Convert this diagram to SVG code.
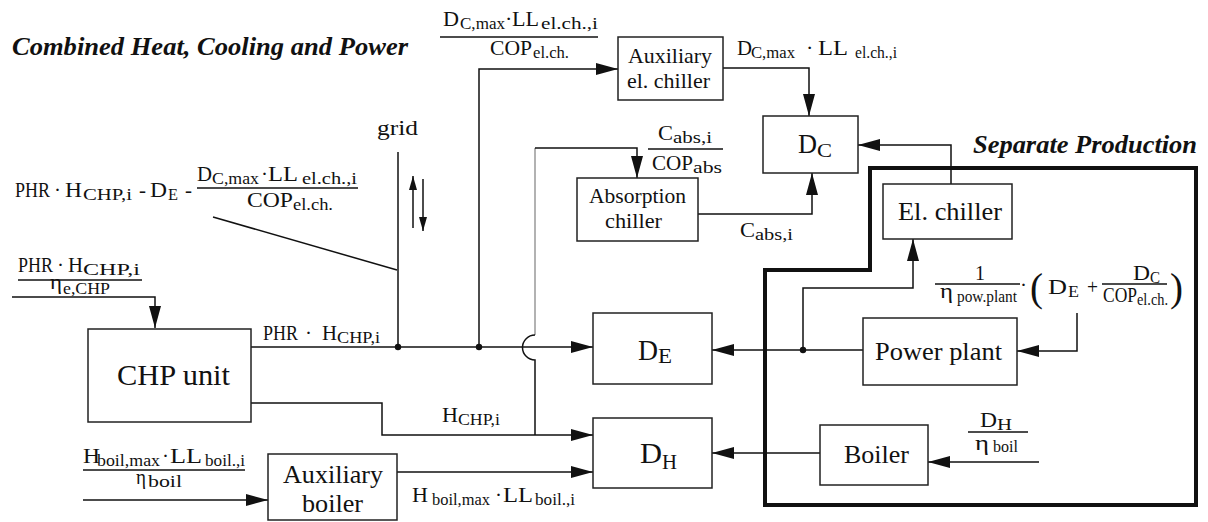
<svg xmlns="http://www.w3.org/2000/svg" width="1208" height="522" viewBox="0 0 1208 522">
<style>
  text { font-family: "Liberation Serif", "Times New Roman", serif; fill: #111; }
  .h { font-weight: bold; font-style: italic; font-size: 26px; }
  .box { fill: #fff; stroke: #222; stroke-width: 1.5; }
  .ln { fill: none; stroke: #111; stroke-width: 1.5; }
  .gr { fill: none; stroke: #999; stroke-width: 1.5; }
  .bar { fill: none; stroke: #111; stroke-width: 1.3; }
  .thick { fill: none; stroke: #111; stroke-width: 4; }
  .m { font-size: 21px; }
  .b { font-size: 22px; }
  .L { font-size: 26px; }
  .s { font-size: 16px; }
</style>
<defs>
  <marker id="arr" markerUnits="userSpaceOnUse" markerWidth="22" markerHeight="12" refX="22" refY="6" orient="auto">
    <path d="M0,0 L22,6 L0,12 z" fill="#111"/>
  </marker>
  <marker id="sarr" markerUnits="userSpaceOnUse" markerWidth="14" markerHeight="8" refX="14" refY="4" orient="auto">
    <path d="M0,0 L14,4 L0,8 z" fill="#111"/>
  </marker>
</defs>

<text class="h" x="12" y="55" textLength="396" lengthAdjust="spacingAndGlyphs">Combined Heat, Cooling and Power</text>
<text class="h" x="973" y="153" textLength="224" lengthAdjust="spacingAndGlyphs">Separate Production</text>

<path class="thick" d="M765,505 L765,270 L870,270 L870,168 L1196,168 L1196,505 Z"/>

<g id="connectors">
  <polyline class="ln" points="12,297 155,297 155,328" marker-end="url(#arr)"/>
  <line class="ln" x1="251" y1="347" x2="593" y2="347" marker-end="url(#arr)"/>
  <line class="ln" x1="398" y1="152" x2="398" y2="347"/>
  <line class="ln" x1="213" y1="217" x2="397" y2="270" stroke-width="1.2"/>
  <line class="ln" x1="413" y1="228" x2="413" y2="176" marker-end="url(#sarr)"/>
  <line class="ln" x1="423" y1="179" x2="423" y2="231" marker-end="url(#sarr)"/>
  <polyline class="ln" points="479,347 479,69 618,69" marker-end="url(#arr)"/>
  <polyline class="ln" points="723,68 809,68 809,116" marker-end="url(#arr)"/>
  <line class="gr" x1="535" y1="335" x2="535" y2="148"/>
  <polyline class="ln" points="535,148 637,148 637,178" marker-end="url(#arr)"/>
  <path class="ln" d="M535,335 A12.5,12.5 0 0 0 535,360 L535,435"/>
  <polyline class="ln" points="251,403 382,403 382,435 593,435" marker-end="url(#arr)"/>
  <line class="ln" x1="83" y1="500" x2="268" y2="500" marker-end="url(#arr)"/>
  <line class="ln" x1="397" y1="472" x2="593" y2="472" marker-end="url(#arr)"/>
  <polyline class="ln" points="698,214 812,214 812,173" marker-end="url(#arr)"/>
  <polyline class="ln" points="951,184 951,145 858,145" marker-end="url(#arr)"/>
  <line class="ln" x1="863" y1="350" x2="712" y2="350" marker-end="url(#arr)"/>
  <polyline class="ln" points="803,350 803,288 913,288 913,239" marker-end="url(#arr)"/>
  <polyline class="ln" points="1077,313 1077,351 1017,351" marker-end="url(#arr)"/>
  <line class="ln" x1="820" y1="453" x2="712" y2="453" marker-end="url(#arr)"/>
  <line class="ln" x1="1039" y1="462" x2="928" y2="462" marker-end="url(#arr)"/>
  <circle cx="398" cy="347" r="3.2" fill="#111"/>
  <circle cx="479" cy="347" r="3.2" fill="#111"/>
  <circle cx="803" cy="350" r="3.2" fill="#111"/>
  <line class="bar" x1="440" y1="37" x2="598" y2="37"/>
  <line class="bar" x1="197" y1="188" x2="358" y2="188"/>
  <line class="bar" x1="18" y1="280" x2="142" y2="280"/>
  <line class="bar" x1="648" y1="149" x2="723" y2="149"/>
  <line class="bar" x1="935" y1="284" x2="1020" y2="284"/>
  <line class="bar" x1="1102" y1="284" x2="1167" y2="284"/>
  <line class="bar" x1="83" y1="470" x2="245" y2="470"/>
  <line class="bar" x1="968" y1="432" x2="1028" y2="432"/>
</g>

<g id="chp">
  <rect class="box" x="88" y="329" width="163" height="93"/>
  <text x="117" y="385" font-size="30" textLength="113" lengthAdjust="spacingAndGlyphs">CHP unit</text>
</g>
<g id="aux-chiller">
  <rect class="box" x="618" y="37" width="105" height="63"/>
  <text class="b" x="628" y="63" textLength="84" lengthAdjust="spacingAndGlyphs">Auxiliary</text>
  <text class="b" x="627" y="88" textLength="83" lengthAdjust="spacingAndGlyphs">el. chiller</text>
</g>
<g id="dc">
  <rect class="box" x="763" y="116" width="95" height="57"/>
  <text x="798" y="153" font-size="28" textLength="19" lengthAdjust="spacingAndGlyphs">D</text>
  <text x="817" y="157" font-size="19" textLength="15" lengthAdjust="spacingAndGlyphs">C</text>
</g>
<g id="absorption">
  <rect class="box" x="577" y="178" width="121" height="63"/>
  <text class="b" x="589" y="203" textLength="97" lengthAdjust="spacingAndGlyphs">Absorption</text>
  <text class="b" x="605" y="228" textLength="57" lengthAdjust="spacingAndGlyphs">chiller</text>
</g>
<g id="de">
  <rect class="box" x="593" y="313" width="119" height="71"/>
  <text x="638" y="360" font-size="30" textLength="20" lengthAdjust="spacingAndGlyphs">D</text>
  <text x="658" y="363" font-size="20" textLength="14" lengthAdjust="spacingAndGlyphs">E</text>
</g>
<g id="dh">
  <rect class="box" x="593" y="418" width="119" height="70"/>
  <text x="640" y="463" font-size="30" textLength="22" lengthAdjust="spacingAndGlyphs">D</text>
  <text x="662" y="469" font-size="20" textLength="15" lengthAdjust="spacingAndGlyphs">H</text>
</g>
<g id="aux-boiler">
  <rect class="box" x="268" y="454" width="129" height="66"/>
  <text class="L" x="283" y="483" textLength="100" lengthAdjust="spacingAndGlyphs">Auxiliary</text>
  <text class="L" x="302" y="512" textLength="61" lengthAdjust="spacingAndGlyphs">boiler</text>
</g>
<g id="el-chiller">
  <rect class="box" x="883" y="184" width="129" height="55"/>
  <text class="L" x="898" y="220" textLength="104" lengthAdjust="spacingAndGlyphs">El. chiller</text>
</g>
<g id="power-plant">
  <rect class="box" x="863" y="318" width="154" height="67"/>
  <text class="L" x="875" y="360" textLength="127" lengthAdjust="spacingAndGlyphs">Power plant</text>
</g>
<g id="boiler">
  <rect class="box" x="820" y="425" width="108" height="60"/>
  <text class="L" x="844" y="463" textLength="65" lengthAdjust="spacingAndGlyphs">Boiler</text>
</g>

<g id="labels">
  <text class="b" x="377" y="135" textLength="41" lengthAdjust="spacingAndGlyphs">grid</text>

  <g id="lbl-aux-chiller-in">
    <text class="b" x="443" y="26" textLength="16" lengthAdjust="spacingAndGlyphs">D</text>
    <text class="s" x="460" y="29" textLength="45" lengthAdjust="spacingAndGlyphs">C,max</text>
    <text class="b" x="505" y="26">·</text>
    <text class="b" x="512" y="26" textLength="27" lengthAdjust="spacingAndGlyphs">LL</text>
    <text class="s" x="541" y="29" textLength="57" lengthAdjust="spacingAndGlyphs">el.ch.,i</text>
    <text class="b" x="490" y="55" textLength="42" lengthAdjust="spacingAndGlyphs">COP</text>
    <text class="s" x="533" y="58" textLength="36" lengthAdjust="spacingAndGlyphs">el.ch.</text>
  </g>

  <g id="lbl-aux-chiller-out">
    <text class="b" x="737" y="55" textLength="15" lengthAdjust="spacingAndGlyphs">D</text>
    <text class="s" x="751" y="58" textLength="44" lengthAdjust="spacingAndGlyphs">C,max</text>
    <text class="b" x="806" y="55">·</text>
    <text class="b" x="818" y="55" textLength="30" lengthAdjust="spacingAndGlyphs">LL</text>
    <text class="s" x="855" y="58" textLength="42" lengthAdjust="spacingAndGlyphs">el.ch.,i</text>
  </g>

  <g id="lbl-grid-balance">
    <text class="m" x="15" y="197" textLength="35" lengthAdjust="spacingAndGlyphs">PHR</text>
    <text class="m" x="54" y="197">·</text>
    <text class="m" x="65" y="197" textLength="17" lengthAdjust="spacingAndGlyphs">H</text>
    <text class="s" x="83" y="200" textLength="49" lengthAdjust="spacingAndGlyphs">CHP,i</text>
    <text class="m" x="139" y="197">-</text>
    <text class="m" x="150" y="197" textLength="17" lengthAdjust="spacingAndGlyphs">D</text>
    <text class="s" x="168" y="200" font-size="14" textLength="10" lengthAdjust="spacingAndGlyphs">E</text>
    <text class="m" x="185" y="197">-</text>
    <text class="m" x="197" y="181" textLength="15" lengthAdjust="spacingAndGlyphs">D</text>
    <text class="s" x="212" y="184" textLength="47" lengthAdjust="spacingAndGlyphs">C,max</text>
    <text class="m" x="261" y="181">·</text>
    <text class="m" x="268" y="181" textLength="30" lengthAdjust="spacingAndGlyphs">LL</text>
    <text class="s" x="302" y="184" textLength="55" lengthAdjust="spacingAndGlyphs">el.ch.,i</text>
    <text class="m" x="247" y="207" textLength="46" lengthAdjust="spacingAndGlyphs">COP</text>
    <text class="s" x="293" y="210" textLength="40" lengthAdjust="spacingAndGlyphs">el.ch.</text>
  </g>

  <g id="lbl-chp-in">
    <text class="m" x="18" y="272" textLength="35" lengthAdjust="spacingAndGlyphs">PHR</text>
    <text class="m" x="57" y="272">·</text>
    <text class="m" x="68" y="272" textLength="15" lengthAdjust="spacingAndGlyphs">H</text>
    <text class="s" x="83" y="275" textLength="57" lengthAdjust="spacingAndGlyphs">CHP,i</text>
    <text class="b" x="50" y="289" textLength="12" lengthAdjust="spacingAndGlyphs">η</text>
    <text class="s" x="63" y="294" textLength="47" lengthAdjust="spacingAndGlyphs">e,CHP</text>
  </g>

  <g id="lbl-chp-power">
    <text class="m" x="263" y="340" textLength="35" lengthAdjust="spacingAndGlyphs">PHR</text>
    <text class="m" x="305" y="340">·</text>
    <text class="m" x="322" y="340" textLength="15" lengthAdjust="spacingAndGlyphs">H</text>
    <text class="s" x="337" y="343" textLength="43" lengthAdjust="spacingAndGlyphs">CHP,i</text>
  </g>

  <g id="lbl-chp-heat">
    <text class="m" x="442" y="422" textLength="16" lengthAdjust="spacingAndGlyphs">H</text>
    <text class="s" x="458" y="425" textLength="42" lengthAdjust="spacingAndGlyphs">CHP,i</text>
  </g>

  <g id="lbl-aux-boiler-in">
    <text class="m" x="83" y="463" textLength="17" lengthAdjust="spacingAndGlyphs">H</text>
    <text class="s" x="97" y="466" textLength="63" lengthAdjust="spacingAndGlyphs">boil,max</text>
    <text class="m" x="162" y="463">·</text>
    <text class="m" x="170" y="463" textLength="32" lengthAdjust="spacingAndGlyphs">LL</text>
    <text class="s" x="205" y="466" textLength="40" lengthAdjust="spacingAndGlyphs">boil.,i</text>
    <text class="b" x="136" y="484" textLength="10" lengthAdjust="spacingAndGlyphs">η</text>
    <text class="s" x="148" y="487" textLength="34" lengthAdjust="spacingAndGlyphs">boil</text>
  </g>

  <g id="lbl-aux-boiler-out">
    <text class="m" x="412" y="502" textLength="16" lengthAdjust="spacingAndGlyphs">H</text>
    <text class="s" x="432" y="505" textLength="58" lengthAdjust="spacingAndGlyphs">boil,max</text>
    <text class="m" x="495" y="502">·</text>
    <text class="m" x="503" y="502" textLength="30" lengthAdjust="spacingAndGlyphs">LL</text>
    <text class="s" x="535" y="505" textLength="40" lengthAdjust="spacingAndGlyphs">boil.,i</text>
  </g>

  <g id="lbl-abs-in">
    <text class="m" x="658" y="140" textLength="15" lengthAdjust="spacingAndGlyphs">C</text>
    <text class="s" x="673" y="143" textLength="39" lengthAdjust="spacingAndGlyphs">abs,i</text>
    <text class="m" x="652" y="170" textLength="41" lengthAdjust="spacingAndGlyphs">COP</text>
    <text class="s" x="693" y="173" textLength="29" lengthAdjust="spacingAndGlyphs">abs</text>
  </g>

  <g id="lbl-abs-out">
    <text class="m" x="740" y="237" textLength="15" lengthAdjust="spacingAndGlyphs">C</text>
    <text class="s" x="755" y="240" textLength="38" lengthAdjust="spacingAndGlyphs">abs,i</text>
  </g>

  <g id="lbl-power-plant-in">
    <text class="m" x="975" y="280" textLength="10" lengthAdjust="spacingAndGlyphs">1</text>
    <text class="b" x="940" y="298" textLength="13" lengthAdjust="spacingAndGlyphs">η</text>
    <text class="s" x="957" y="302" textLength="60" lengthAdjust="spacingAndGlyphs">pow.plant</text>
    <text class="m" x="1020" y="292">·</text>
    <text x="1030" y="301" font-size="40" textLength="13" lengthAdjust="spacingAndGlyphs">(</text>
    <text class="m" x="1048" y="294" textLength="19" lengthAdjust="spacingAndGlyphs">D</text>
    <text class="s" x="1068" y="297" font-size="14" textLength="11" lengthAdjust="spacingAndGlyphs">E</text>
    <text class="m" x="1087" y="294" textLength="11" lengthAdjust="spacingAndGlyphs">+</text>
    <text class="m" x="1133" y="280" textLength="17" lengthAdjust="spacingAndGlyphs">D</text>
    <text class="s" x="1150" y="283" font-size="14" textLength="10" lengthAdjust="spacingAndGlyphs">C</text>
    <text class="m" x="1103" y="302" textLength="34" lengthAdjust="spacingAndGlyphs">COP</text>
    <text class="s" x="1137" y="305" font-size="14" textLength="31" lengthAdjust="spacingAndGlyphs">el.ch.</text>
    <text x="1170" y="301" font-size="40" textLength="13" lengthAdjust="spacingAndGlyphs">)</text>
  </g>

  <g id="lbl-boiler-in">
    <text class="m" x="980" y="427" textLength="17" lengthAdjust="spacingAndGlyphs">D</text>
    <text class="s" x="997" y="430" font-size="14" textLength="15" lengthAdjust="spacingAndGlyphs">H</text>
    <text class="b" x="975" y="450" textLength="14" lengthAdjust="spacingAndGlyphs">η</text>
    <text class="s" x="993" y="452" textLength="25" lengthAdjust="spacingAndGlyphs">boil</text>
  </g>
</g>
</svg>
